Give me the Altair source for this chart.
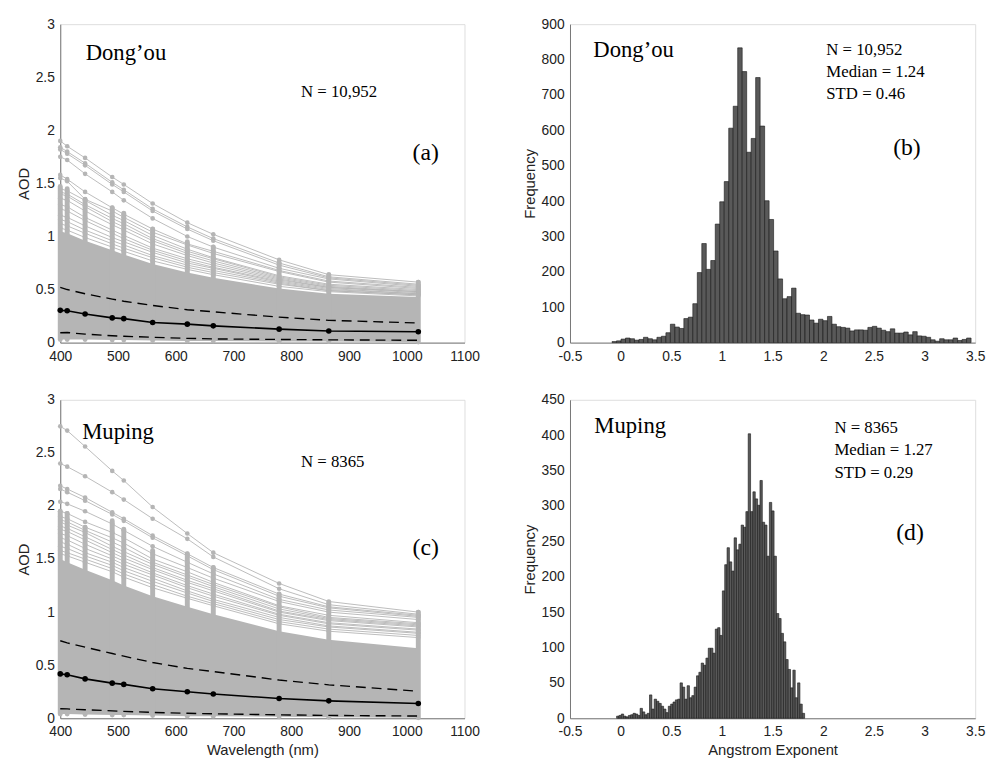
import altair as alt
import pandas as pd

# ---------------- data ----------------
WAVELENGTHS = [400, 412, 443, 490, 510, 560, 620, 665, 779, 865, 1020]

# Dong'ou spectra (panel a)
A_MEDIAN = [0.304, 0.300, 0.270, 0.233, 0.226, 0.189, 0.174, 0.158, 0.127, 0.109, 0.102]
A_UPPER = [0.52, 0.50, 0.46, 0.41, 0.39, 0.35, 0.31, 0.29, 0.24, 0.21, 0.185]
A_LOWER = [0.093, 0.095, 0.080, 0.065, 0.060, 0.050, 0.040, 0.035, 0.030, 0.026, 0.022]
A_BAND_BOTTOM = [0.03, 0.03, 0.03, 0.025, 0.025, 0.02, 0.015, 0.015, 0.01, 0.01, 0.005]
A_BAND_TOP = [1.05, 1.03, 0.96, 0.87, 0.83, 0.74, 0.66, 0.61, 0.51, 0.46, 0.43]
A_COLUMN_TOP = [1.47, 1.45, 1.35, 1.27, 1.22, 1.07, 0.95, 0.90, 0.76, 0.64, 0.57]
A_LINES = [
    [1.90, 1.85, 1.74, 1.56, 1.49, 1.31, 1.13, 1.02, 0.78, 0.64, 0.57],
    [1.84, 1.80, 1.69, 1.51, 1.44, 1.26, 1.09, 0.98, 0.75, 0.62, 0.55],
    [1.82, 1.78, 1.67, 1.49, 1.42, 1.24, 1.07, 0.96, 0.73, 0.61, 0.54],
    [1.75, 1.72, 1.59, 1.42, 1.34, 1.17, 1.00, 0.90, 0.70, 0.60, 0.53],
    [1.58, 1.54, 1.42, 1.27, 1.21, 1.07, 0.93, 0.86, 0.68, 0.58, 0.52],
    [1.55, 1.52, 1.35, 1.24, 1.18, 1.04, 0.92, 0.84, 0.67, 0.57, 0.51],
    [1.45, 1.43, 1.34, 1.20, 1.15, 1.01, 0.88, 0.80, 0.63, 0.55, 0.50],
    [1.42, 1.40, 1.30, 1.17, 1.12, 0.98, 0.86, 0.79, 0.62, 0.54, 0.49],
    [1.40, 1.38, 1.28, 1.14, 1.09, 0.96, 0.84, 0.77, 0.61, 0.53, 0.48],
    [1.36, 1.34, 1.24, 1.11, 1.06, 0.93, 0.82, 0.75, 0.60, 0.52, 0.48],
    [1.30, 1.28, 1.18, 1.06, 1.01, 0.89, 0.79, 0.73, 0.59, 0.52, 0.47],
    [1.26, 1.24, 1.15, 1.03, 0.98, 0.87, 0.77, 0.71, 0.58, 0.51, 0.46],
    [1.20, 1.18, 1.10, 0.99, 0.95, 0.85, 0.75, 0.70, 0.57, 0.50, 0.46],
    [1.16, 1.14, 1.06, 0.96, 0.92, 0.82, 0.73, 0.68, 0.56, 0.49, 0.45],
    [1.12, 1.10, 1.03, 0.93, 0.89, 0.80, 0.71, 0.66, 0.55, 0.49, 0.45],
    [1.08, 1.06, 0.99, 0.90, 0.86, 0.77, 0.69, 0.64, 0.53, 0.48, 0.44],
]

# Muping spectra (panel c)
C_MEDIAN = [0.418, 0.410, 0.371, 0.331, 0.319, 0.278, 0.250, 0.229, 0.186, 0.164, 0.139]
C_UPPER = [0.73, 0.71, 0.67, 0.61, 0.585, 0.525, 0.47, 0.44, 0.36, 0.315, 0.255]
C_LOWER = [0.090, 0.088, 0.080, 0.070, 0.065, 0.055, 0.047, 0.042, 0.032, 0.027, 0.021]
C_BAND_BOTTOM = [0.04, 0.04, 0.035, 0.03, 0.03, 0.025, 0.02, 0.02, 0.015, 0.01, 0.005]
C_BAND_TOP = [1.50, 1.47, 1.40, 1.30, 1.25, 1.15, 1.05, 0.98, 0.82, 0.74, 0.66]
C_COLUMN_TOP = [1.95, 1.93, 1.80, 1.86, 1.78, 1.58, 1.55, 1.42, 1.17, 1.09, 1.00]
C_LINES = [
    [2.75, 2.71, 2.56, 2.33, 2.24, 1.99, 1.74, 1.56, 1.27, 1.10, 1.00],
    [2.40, 2.37, 2.28, 2.13, 2.06, 1.88, 1.69, 1.52, 1.22, 1.07, 0.98],
    [2.19, 2.16, 2.08, 1.94, 1.88, 1.72, 1.55, 1.42, 1.17, 1.05, 0.97],
    [2.16, 2.13, 2.05, 1.92, 1.86, 1.70, 1.53, 1.40, 1.15, 1.04, 0.96],
    [2.04, 2.02, 1.95, 1.83, 1.77, 1.62, 1.47, 1.36, 1.12, 1.02, 0.95],
    [1.95, 1.93, 1.85, 1.75, 1.70, 1.55, 1.42, 1.32, 1.10, 1.00, 0.93],
    [1.90, 1.88, 1.80, 1.70, 1.65, 1.50, 1.38, 1.28, 1.06, 0.97, 0.90],
    [1.87, 1.85, 1.77, 1.66, 1.61, 1.47, 1.35, 1.26, 1.05, 0.95, 0.89],
    [1.85, 1.82, 1.75, 1.62, 1.57, 1.45, 1.33, 1.24, 1.03, 0.94, 0.88],
    [1.81, 1.79, 1.71, 1.59, 1.54, 1.42, 1.30, 1.22, 1.01, 0.93, 0.87],
    [1.78, 1.76, 1.68, 1.56, 1.51, 1.40, 1.28, 1.20, 1.00, 0.92, 0.86],
    [1.74, 1.72, 1.64, 1.53, 1.48, 1.37, 1.25, 1.17, 0.98, 0.90, 0.84],
    [1.70, 1.68, 1.60, 1.50, 1.45, 1.35, 1.23, 1.15, 0.97, 0.89, 0.83],
    [1.66, 1.64, 1.56, 1.47, 1.42, 1.32, 1.20, 1.12, 0.95, 0.87, 0.81],
    [1.62, 1.60, 1.53, 1.44, 1.39, 1.29, 1.18, 1.10, 0.93, 0.86, 0.80],
    [1.58, 1.56, 1.50, 1.41, 1.36, 1.26, 1.15, 1.08, 0.91, 0.84, 0.78],
    [1.55, 1.53, 1.47, 1.38, 1.33, 1.23, 1.13, 1.06, 0.89, 0.82, 0.76],
]

# Angstrom exponent histograms (80 bins each)
B_BIN_START = -0.085
B_BIN_WIDTH = 0.0443
B_COUNTS = [3, 5, 10, 13, 11, 7, 9, 15, 11, 8, 15, 18, 28, 52, 44, 40, 68, 72, 110, 198,
            280, 207, 232, 335, 398, 455, 606, 668, 833, 766, 538, 577, 749, 612, 401, 348, 259, 180, 124, 130,
            154, 83, 79, 78, 64, 55, 66, 62, 74, 52, 45, 43, 41, 33, 36, 36, 35, 43, 46, 41,
            35, 31, 39, 27, 27, 30, 22, 31, 19, 18, 15, 8, 4, 11, 8, 8, 13, 6, 9, 13]

D_BIN_START = -0.04
D_BIN_WIDTH = 0.0232
D_COUNTS = [3, 4, 6, 3, 2, 4, 5, 7, 6, 4, 14, 9, 5, 7, 33, 13, 27, 24, 21, 17,
            13, 8, 17, 20, 23, 26, 27, 50, 44, 27, 46, 29, 32, 44, 60, 65, 78, 75, 85, 99,
            99, 92, 126, 128, 117, 180, 217, 241, 221, 208, 255, 238, 246, 273, 270, 292, 402, 292, 320, 310,
            301, 336, 277, 273, 229, 305, 293, 229, 148, 141, 120, 108, 83, 69, 43, 68, 29, 50, 20, 7]

# ---------------- styling ----------------
GRAY = "#b5b5b5"
SANS = "Liberation Sans"
SERIF = "Liberation Serif"
PW, PH = 410, 323


def num_axis(values, title, pad, tpad=4):
    return alt.Axis(values=values, labelExpr="toString(datum.value)", grid=False, ticks=False,
                    labelOverlap=False, labelFlush=False, labelFont=SANS, labelFontSize=14,
                    labelColor="#222222", labelPadding=pad, domainColor="#777777",
                    titleFont=SANS, titleFontSize=15, titleFontWeight="normal",
                    titleColor="#222222", titlePadding=tpad, title=title)


def text_layer(rows, xs, ys, xax, yax):
    return alt.Chart(pd.DataFrame(rows)).mark_text(
        font=SERIF, align="left", baseline="alphabetic", color="black").encode(
        x=alt.X("x:Q", scale=xs, axis=xax), y=alt.Y("y:Q", scale=ys, axis=yax), text="t:N",
        size=alt.Size("s:Q", scale=None, legend=None))


def spectra_panel(median, upper, lower, band_bottom, band_top, col_top, lines,
                  site, n_text, letter, site_pos, n_pos, letter_pos, xtitle, xpad):
    xs = alt.Scale(domain=[400, 1100], nice=False, zero=False)
    ys = alt.Scale(domain=[0, 3], nice=False)
    xax = num_axis(list(range(400, 1101, 100)), xtitle, xpad, 5)
    yax = num_axis([0, 0.5, 1, 1.5, 2, 2.5, 3], "AOD", 6)

    base = pd.DataFrame({"wl": WAVELENGTHS, "median": median, "upper": upper, "lower": lower,
                         "bb": band_bottom, "bt": band_top, "ct": col_top})
    rows = []
    for k, ln in enumerate(lines):
        for w, v in zip(WAVELENGTHS, ln):
            rows.append({"id": k, "wl": w, "aod": v})
    ldf = pd.DataFrame(rows)

    X = alt.X("wl:Q", scale=xs, axis=xax)

    def Y(field):
        return alt.Y(field, scale=ys, axis=yax)

    band = alt.Chart(base).mark_area(color=GRAY, opacity=1).encode(
        x=X, y=Y("bb:Q"), y2="bt:Q")
    cols = alt.Chart(base).mark_rule(color=GRAY, strokeWidth=5, strokeCap="round").encode(
        x=X, y=Y("bb:Q"), y2="ct:Q")
    glines = alt.Chart(ldf).mark_line(color=GRAY, strokeWidth=0.9).encode(
        x=X, y=Y("aod:Q"), detail="id:N")
    gpts = alt.Chart(ldf).mark_circle(color=GRAY, size=22, opacity=1).encode(
        x=X, y=Y("aod:Q"))
    up = alt.Chart(base).mark_line(color="black", strokeWidth=1.4, strokeDash=[10, 6]).encode(
        x=X, y=Y("upper:Q"))
    lo = alt.Chart(base).mark_line(color="black", strokeWidth=1.4, strokeDash=[10, 6]).encode(
        x=X, y=Y("lower:Q"))
    med = alt.Chart(base).mark_line(color="black", strokeWidth=1.6).encode(
        x=X, y=Y("median:Q"))
    medp = alt.Chart(base).mark_circle(color="black", size=32, opacity=1).encode(
        x=X, y=Y("median:Q"))

    texts = text_layer([
        {"x": site_pos[0], "y": site_pos[1], "t": site, "s": 23},
        {"x": n_pos[0], "y": n_pos[1], "t": n_text, "s": 17},
        {"x": letter_pos[0], "y": letter_pos[1], "t": letter, "s": 24},
    ], xs, ys, xax, yax)
    return alt.layer(band, glines, cols, gpts, up, lo, med, medp, texts).properties(
        width=PW, height=PH)


def hist_panel(start, width, counts, ymax, ystep, site, lines, letter,
               site_pos, stats_pos, letter_pos, xtitle, xpad):
    df = pd.DataFrame({"x0": [start + i * width for i in range(len(counts))],
                       "x1": [start + (i + 1) * width for i in range(len(counts))],
                       "count": counts})
    xs = alt.Scale(domain=[-0.5, 3.5], nice=False, zero=False)
    ys = alt.Scale(domain=[0, ymax], nice=False)
    xax = num_axis([-0.5, 0, 0.5, 1, 1.5, 2, 2.5, 3, 3.5], xtitle, xpad, 5)
    yax = num_axis(list(range(0, ymax + 1, ystep)), "Frequency", 6)
    bars = alt.Chart(df).mark_bar(fill="#595959", stroke="#161616", strokeWidth=0.6).encode(
        x=alt.X("x0:Q", scale=xs, axis=xax), x2="x1:Q",
        y=alt.Y("count:Q", scale=ys, axis=yax), y2=alt.datum(0))

    rows = [{"x": site_pos[0], "y": site_pos[1], "t": site, "s": 23},
            {"x": letter_pos[0], "y": letter_pos[1], "t": letter, "s": 24}]
    for k, t in enumerate(lines):
        rows.append({"x": stats_pos[0], "y": stats_pos[1] - k * stats_pos[2], "t": t, "s": 17})
    return alt.layer(bars, text_layer(rows, xs, ys, xax, yax)).properties(
        width=PW + 1, height=PH)


pa = spectra_panel(A_MEDIAN, A_UPPER, A_LOWER, A_BAND_BOTTOM, A_BAND_TOP, A_COLUMN_TOP, A_LINES,
                   "Dong\u2019ou", "N = 10,952", "(a)",
                   (444, 2.66), (817, 2.31), (1010, 1.72), None, 7)
pc = spectra_panel(C_MEDIAN, C_UPPER, C_LOWER, C_BAND_BOTTOM, C_BAND_TOP, C_COLUMN_TOP, C_LINES,
                   "Muping", "N = 8365", "(c)",
                   (438, 2.63), (817, 2.37), (1010, 1.54), "Wavelength (nm)", 6)
pb = hist_panel(B_BIN_START, B_BIN_WIDTH, B_COUNTS, 900, 100, "Dong\u2019ou",
                ["N = 10,952", "Median = 1.24", "STD = 0.46"], "(b)",
                (-0.27, 808), (2.03, 814, 63), (2.69, 531), None, 7)
pd_ = hist_panel(D_BIN_START, D_BIN_WIDTH, D_COUNTS, 450, 50, "Muping",
                 ["N = 8365", "Median = 1.27", "STD = 0.29"], "(d)",
                 (-0.26, 403), (2.11, 403, 31.5), (2.72, 252), "Angstrom Exponent", 6)

chart = alt.vconcat(
    alt.hconcat(pa, pb, spacing=42),
    alt.hconcat(pc, pd_, spacing=42),
    spacing=28,
).properties(
    padding={"left": 8, "top": 3, "right": 5, "bottom": 0}
).configure_view(stroke="#9a9a9a", strokeWidth=1).configure(background="white")

chart.save("out.html", embed_options={"renderer": "svg", "actions": False})
